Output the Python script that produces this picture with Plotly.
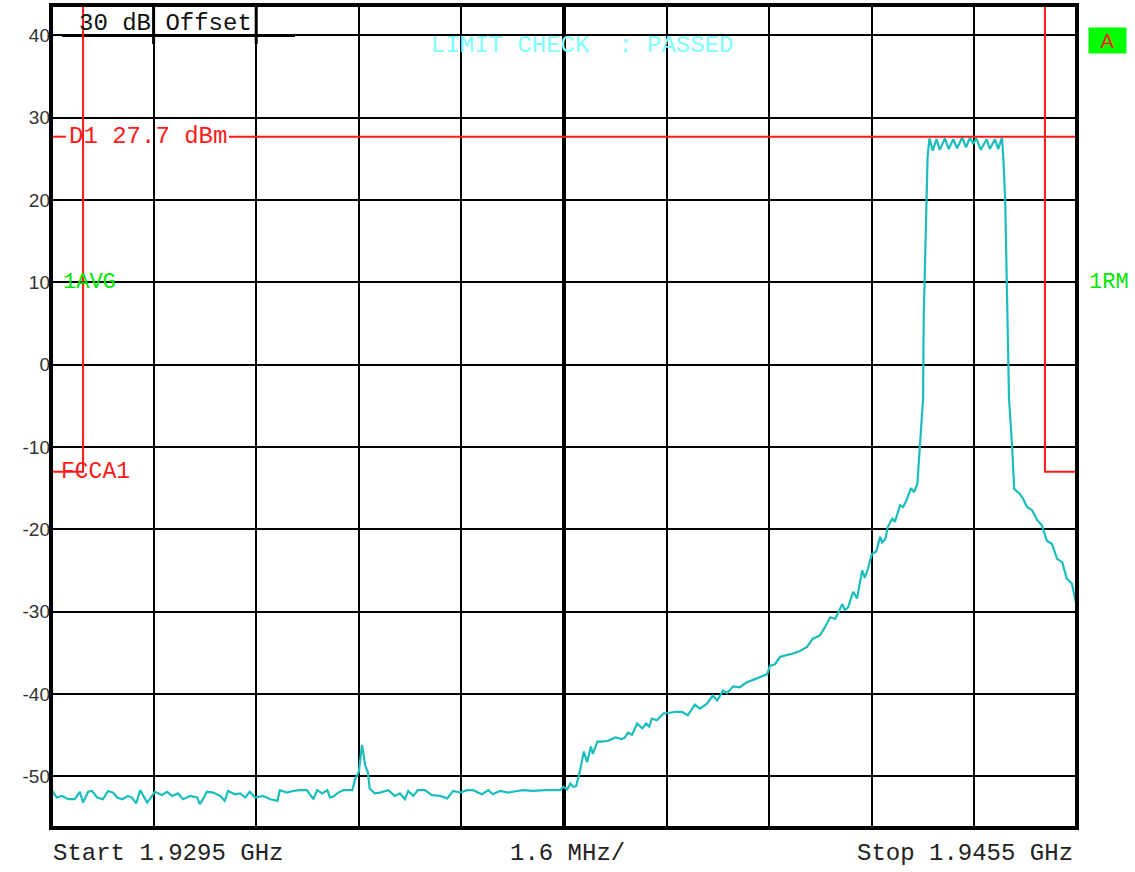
import plotly.graph_objects as go

# ---------------- data ----------------
freq_mhz = [
    1929.52, 1929.59, 1929.67, 1929.77, 1929.87, 1929.95, 1930.00, 1930.08, 1930.14, 1930.22,
    1930.31, 1930.39, 1930.47, 1930.53, 1930.61, 1930.70, 1930.76, 1930.83, 1930.89, 1930.95,
    1931.00, 1931.04, 1931.12, 1931.23, 1931.31, 1931.39, 1931.48, 1931.56, 1931.67, 1931.78,
    1931.82, 1931.87, 1931.93, 1932.03, 1932.14, 1932.21, 1932.26, 1932.37, 1932.45, 1932.53,
    1932.60, 1932.68, 1932.81, 1932.92, 1933.03, 1933.07, 1933.18, 1933.27, 1933.38, 1933.49,
    1933.59, 1933.65, 1933.73, 1933.81, 1933.85, 1933.90, 1933.98, 1934.06, 1934.20, 1934.24,
    1934.30, 1934.35, 1934.40, 1934.44, 1934.47, 1934.55, 1934.63, 1934.76, 1934.86, 1934.94,
    1935.02, 1935.07, 1935.15, 1935.22, 1935.33, 1935.44, 1935.57, 1935.68, 1935.77, 1935.88,
    1935.99, 1936.08, 1936.22, 1936.32, 1936.39, 1936.50, 1936.63, 1936.77, 1936.86, 1937.02,
    1937.21, 1937.44, 1937.49, 1937.55, 1937.60, 1937.64, 1937.69, 1937.75, 1937.81, 1937.86,
    1937.92, 1937.95, 1938.02, 1938.09, 1938.19, 1938.30, 1938.40, 1938.45, 1938.50, 1938.56,
    1938.64, 1938.72, 1938.78, 1938.83, 1938.87, 1938.95, 1939.05, 1939.15, 1939.23, 1939.34,
    1939.43, 1939.54, 1939.62, 1939.73, 1939.82, 1939.89, 1939.98, 1940.04, 1940.14, 1940.24,
    1940.35, 1940.45, 1940.56, 1940.67, 1940.71, 1940.79, 1940.87, 1940.98, 1941.07, 1941.18,
    1941.29, 1941.38, 1941.49, 1941.57, 1941.65, 1941.73, 1941.84, 1941.88, 1941.93, 1942.01,
    1942.07, 1942.15, 1942.19, 1942.24, 1942.30, 1942.37, 1942.43, 1942.46, 1942.51, 1942.55,
    1942.62, 1942.66, 1942.74, 1942.79, 1942.85, 1942.91, 1942.96, 1943.01, 1943.05, 1943.10,
    1943.11, 1943.15, 1943.17, 1943.20, 1943.25, 1943.31, 1943.36, 1943.44, 1943.50, 1943.57,
    1943.63, 1943.71, 1943.77, 1943.83, 1943.88, 1943.93, 1944.00, 1944.09, 1944.14, 1944.22,
    1944.27, 1944.33, 1944.35, 1944.38, 1944.41, 1944.44, 1944.49, 1944.52, 1944.61, 1944.66,
    1944.72, 1944.80, 1944.88, 1944.95, 1945.03, 1945.11, 1945.19, 1945.27, 1945.34, 1945.42,
    1945.50,
]
level_dbm = [
    -51.8, -52.6, -52.4, -52.8, -52.8, -51.9, -53.2, -51.9, -51.8, -52.6,
    -52.8, -51.8, -52.0, -52.6, -52.8, -52.4, -52.6, -53.3, -51.7, -52.6,
    -53.2, -52.8, -51.9, -52.3, -51.9, -52.4, -52.1, -52.8, -52.4, -52.6,
    -53.4, -52.8, -51.9, -52.0, -52.4, -53.0, -51.8, -52.2, -52.1, -52.6,
    -51.9, -52.6, -52.4, -52.8, -53.0, -51.7, -52.0, -51.8, -51.7, -51.7,
    -52.8, -51.7, -52.1, -51.7, -52.6, -52.5, -52.0, -51.7, -51.7, -50.4,
    -49.5, -46.2, -48.7, -49.5, -51.5, -52.1, -52.0, -51.7, -52.4, -52.1,
    -52.8, -51.8, -52.4, -51.7, -51.7, -52.3, -52.4, -52.7, -51.8, -52.0,
    -51.7, -51.7, -52.2, -51.7, -52.2, -51.8, -52.0, -51.8, -51.7, -51.8,
    -51.7, -51.7, -51.3, -51.6, -50.9, -51.3, -51.2, -49.3, -47.0, -48.3,
    -46.4, -47.3, -45.8, -45.8, -45.7, -45.3, -45.5, -45.3, -44.7, -45.0,
    -43.6, -44.2, -43.6, -44.0, -43.0, -43.2, -42.4, -42.3, -42.2, -42.2,
    -42.6, -41.3, -41.8, -41.2, -40.2, -40.8, -39.6, -39.9, -39.1, -39.2,
    -38.6, -38.3, -37.9, -37.6, -36.6, -36.4, -35.5, -35.3, -35.1, -34.8,
    -34.3, -33.3, -32.9, -31.9, -30.7, -30.9, -29.1, -29.8, -29.5, -27.6,
    -28.4, -25.0, -25.9, -24.8, -23.0, -22.7, -20.9, -21.6, -21.2, -19.7,
    -18.7, -19.1, -17.1, -17.3, -16.3, -15.0, -15.5, -14.5, -10.2, -4.1,
    5.9, 20.0, 25.3, 27.5, 26.0, 27.4, 26.1, 27.5, 26.2, 27.4,
    26.3, 27.6, 26.4, 27.6, 26.8, 27.5, 26.1, 27.4, 26.2, 27.4,
    26.2, 27.6, 25.3, 20.0, 5.9, -4.1, -10.2, -15.1, -15.7, -16.3,
    -17.3, -17.7, -18.9, -19.5, -21.4, -21.8, -23.6, -24.0, -26.0, -26.6,
    -29.5,
]

# FCC limit line (FCCA1), -13 dBm outside the band
limit_freq_mhz = [1929.5, 1930.0, 1930.0, 1945.0, 1945.0, 1945.5]
limit_level_dbm = [-13.0, -13.0, 80.0, 80.0, -13.0, -13.0]

display_line_dbm = 27.7
center_freq_mhz = 1937.5
start_freq_mhz = 1929.5
stop_freq_mhz = 1945.5
span_per_div_mhz = 1.6
ref_top_dbm = 43.7
ref_bottom_dbm = -56.3

y_tick_vals = [40, 30, 20, 10, 0, -10, -20, -30, -40, -50]
y_tick_text = ["40", "30", "20", "10", "0", "-10", "-20", "-30", "-40", "-50"]

# ---------------- styles ----------------
TRACE_COLOR = "#1CBDBD"
RED = "#FF1A1A"
GREEN = "#00E600"
MONO = "Liberation Mono, DejaVu Sans Mono, monospace"
SANS = "Liberation Sans, Arial, sans-serif"
NB = "\u00a0"

fig = go.Figure()

fig.add_trace(go.Scatter(
    x=limit_freq_mhz, y=limit_level_dbm, mode="lines",
    line=dict(color=RED, width=2), hoverinfo="skip", showlegend=False,
))
fig.add_trace(go.Scatter(
    x=freq_mhz, y=level_dbm, mode="lines",
    line=dict(color=TRACE_COLOR, width=2.2), showlegend=False,
))

shapes = []
# thick centre graticule line
shapes.append(dict(type="line", xref="x", yref="paper", x0=center_freq_mhz, x1=center_freq_mhz,
                   y0=0, y1=1, line=dict(color="black", width=4), layer="below"))
# offset label box lines
shapes.append(dict(type="line", xref="paper", yref="y", x0=0.0107, x1=0.2378, y0=40, y1=40,
                   line=dict(color="black", width=3), layer="below"))
for xv in (start_freq_mhz + span_per_div_mhz, start_freq_mhz + 2 * span_per_div_mhz):
    shapes.append(dict(type="line", xref="x", yref="paper", x0=xv, x1=xv, y0=0.9525, y1=1,
                       line=dict(color="black", width=3), layer="below"))
# display line D1 (with gap for its label)
shapes.append(dict(type="line", xref="paper", yref="y", x0=0, x1=0.0146,
                   y0=display_line_dbm, y1=display_line_dbm, line=dict(color=RED, width=2)))
shapes.append(dict(type="line", xref="paper", yref="y", x0=0.1735, x1=1,
                   y0=display_line_dbm, y1=display_line_dbm, line=dict(color=RED, width=2)))
# outer frame
shapes.append(dict(type="rect", xref="paper", yref="paper", x0=0, x1=1, y0=0, y1=1,
                   line=dict(color="black", width=4)))

annotations = [
    dict(text="30" + NB + "dB" + NB + "Offset", xref="paper", yref="paper", x=0.025, y=0.977,
         xanchor="left", yanchor="middle", showarrow=False,
         font=dict(family=MONO, size=24, color="#111")),
    dict(text="LIMIT" + NB + "CHECK" + NB * 2 + ":" + NB + "PASSED", xref="paper", yref="paper",
         x=0.368, y=0.951, xanchor="left", yanchor="middle", showarrow=False,
         font=dict(family=MONO, size=24, color="#7FFFFF")),
    dict(text="D1" + NB + "27.7" + NB + "dBm", xref="paper", yref="y", x=0.0155, y=display_line_dbm,
         xanchor="left", yanchor="middle", showarrow=False,
         font=dict(family=MONO, size=24, color=RED)),
    dict(text="FCCA1", xref="paper", yref="y", x=0.008, y=-13,
         xanchor="left", yanchor="middle", showarrow=False,
         font=dict(family=MONO, size=23, color=RED)),
    dict(text="1AVG", xref="paper", yref="y", x=0.010, y=10,
         xanchor="left", yanchor="middle", showarrow=False,
         font=dict(family=MONO, size=22, color=GREEN)),
    dict(text="1RM", xref="paper", yref="y", x=1.0098, y=10,
         xanchor="left", yanchor="middle", showarrow=False,
         font=dict(family=MONO, size=22, color=GREEN)),
    dict(text="A", xref="paper", yref="y", x=1.0107, y=39.4,
         xanchor="left", yanchor="middle", showarrow=False, bgcolor="#00FF00",
         width=35, height=23, align="center",
         font=dict(family=SANS, size=20, color=RED)),
    dict(text="Start" + NB + "1.9295" + NB + "GHz", xref="paper", yref="paper", x=0.0, y=-0.0304,
         xanchor="left", yanchor="middle", showarrow=False,
         font=dict(family=MONO, size=24, color="#222")),
    dict(text="1.6" + NB + "MHz/", xref="paper", yref="paper", x=0.5035, y=-0.0304,
         xanchor="center", yanchor="middle", showarrow=False,
         font=dict(family=MONO, size=24, color="#222")),
    dict(text="Stop" + NB + "1.9455" + NB + "GHz", xref="paper", yref="paper", x=0.998, y=-0.0304,
         xanchor="right", yanchor="middle", showarrow=False,
         font=dict(family=MONO, size=24, color="#222")),
]

fig.update_layout(
    width=1135, height=872,
    margin=dict(l=51, r=58, t=5, b=44),
    paper_bgcolor="white", plot_bgcolor="white",
    shapes=shapes, annotations=annotations,
    showlegend=False,
)
fig.update_xaxes(
    range=[start_freq_mhz, stop_freq_mhz], tick0=start_freq_mhz, dtick=span_per_div_mhz,
    showgrid=True, gridcolor="black", gridwidth=2, showticklabels=False,
    zeroline=False, showline=False, ticks="",
)
fig.update_yaxes(
    range=[ref_bottom_dbm, ref_top_dbm], tickmode="array",
    tickvals=y_tick_vals, ticktext=y_tick_text,
    showgrid=True, gridcolor="black", gridwidth=2, zeroline=False, showline=False,
    ticks="", tickfont=dict(family=SANS, size=19, color="#333"),
)

fig.write_html(
    "out.html",
    config={"displayModeBar": False},
    post_script="document.body.style.margin='0';document.body.style.padding='0';",
)
